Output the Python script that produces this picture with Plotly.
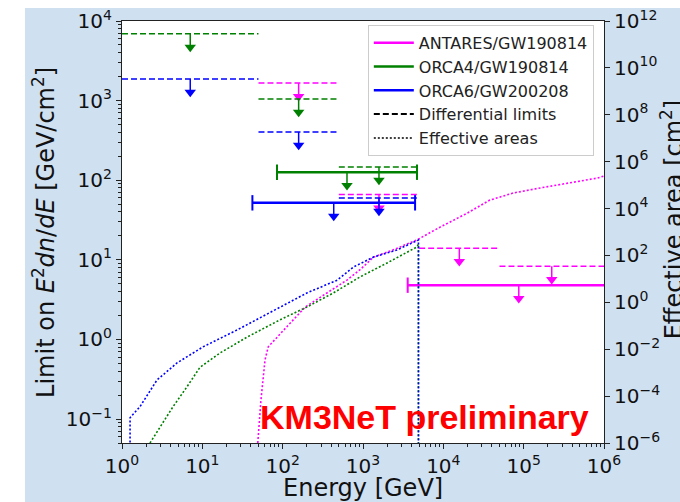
import numpy as np
import plotly.graph_objects as go

# ---------------- data ----------------
series = ["ANTARES/GW190814", "ORCA4/GW190814", "ORCA6/GW200208"]
colors = ["magenta", "green", "blue"]

# differential limits: energy bins [GeV] and limit values [GeV/cm^2]
diff_lo = {
    "ANTARES/GW190814": [50, 500, 5e3, 5e4],
    "ORCA4/GW190814": [1, 50, 500],
    "ORCA6/GW200208": [1, 50, 500],
}
diff_hi = {
    "ANTARES/GW190814": [500, 5e3, 5e4, 1e6],
    "ORCA4/GW190814": [50, 500, 5e3],
    "ORCA6/GW200208": [50, 500, 5e3],
}
diff_val = {
    "ANTARES/GW190814": [1660, 66, 14, 8.3],
    "ORCA4/GW190814": [6900, 1050, 147],
    "ORCA6/GW200208": [1870, 404, 60],
}

# energy-integrated limits: energy range and value
int_lo = {"ANTARES/GW190814": 3600, "ORCA4/GW190814": 85, "ORCA6/GW200208": 42}
int_hi = {"ANTARES/GW190814": 2.1e6, "ORCA4/GW190814": 4700, "ORCA6/GW200208": 4450}
int_val = {"ANTARES/GW190814": 4.8, "ORCA4/GW190814": 126, "ORCA6/GW200208": 52}

# effective areas [cm^2] vs energy [GeV]
ea_E = {
    "ANTARES/GW190814": [49, 53.7, 60.3, 66.1, 112, 191, 355, 631, 912, 1350, 2340,
                         4680, 9120, 2.0e4, 3.8e4, 7.41e4, 1.62e5, 3.47e5, 8.3e5, 1e6],
    "ORCA4/GW190814": [2.23, 2.97, 4.31, 6.44, 9.35, 16.6, 36.1, 92.9, 200, 427, 912,
                       2000, 4680, 4900, 4900],
    "ORCA6/GW200208": [1.26, 1.26, 1.67, 2.73, 4.84, 10.2, 27.0, 92.9, 200, 479, 759,
                       1350, 2630, 4900, 4900],
}
ea_A = {
    "ANTARES/GW190814": [1e-6, 6.9e-5, 3.5e-3, 0.0126, 0.089, 0.63, 2.5, 8.9, 24, 85, 170,
                         457, 1620, 6460, 2.3e4, 4.6e4, 7.6e4, 1.23e5, 2.0e5, 2.45e5],
    "ORCA4/GW190814": [1e-6, 4.8e-6, 3.5e-5, 2.5e-4, 1.7e-3, 6.9e-3, 0.033, 0.18, 0.63,
                       2.5, 12, 48, 229, 300, 1e-7],
    "ORCA6/GW200208": [1e-7, 1.2e-5, 3.5e-5, 4.9e-4, 2.6e-3, 0.0126, 0.066, 0.63, 2.5,
                       8.9, 32, 85, 170, 457, 1e-7],
}

x_tick_exp = [0, 1, 2, 3, 4, 5, 6]
y_tick_exp = [-1, 0, 1, 2, 3, 4]
y2_tick_exp = [-6, -4, -2, 0, 2, 4, 6, 8, 10, 12]

ARROW = 0.68  # arrow length factor (log)

# ---------------- figure ----------------
fig = go.Figure()
FONT = "DejaVu Sans"


def sup(e):
    s = str(e).replace("-", "\u2212")
    return "10<sup>" + s + "</sup>"


# effective areas (right axis)
for name, col in zip(series, colors):
    fig.add_trace(go.Scatter(
        x=ea_E[name], y=ea_A[name], yaxis="y2", mode="lines",
        line=dict(color=col, width=1.6, dash="2px,2px"),
        showlegend=False, hoverinfo="skip"))

# limits (left axis)
for name, col in zip(series, colors):
    xs, ys, ax_x, ax_y = [], [], [], []
    for lo, hi, v in zip(diff_lo[name], diff_hi[name], diff_val[name]):
        xs += [lo, hi, None]
        ys += [v, v, None]
        c = float(np.sqrt(lo * hi))
        ax_x.append(c)
        ax_y.append(v)
    fig.add_trace(go.Scatter(x=xs, y=ys, mode="lines",
                             line=dict(color=col, width=1.5, dash="6px,3px"),
                             showlegend=False, hoverinfo="skip"))
    lo, hi, v = int_lo[name], int_hi[name], int_val[name]
    fig.add_trace(go.Scatter(x=[lo, hi], y=[v, v], mode="lines+markers",
                             line=dict(color=col, width=2.5),
                             marker=dict(symbol="line-ns", size=11,
                                         line=dict(color=col, width=2)),
                             showlegend=False, hoverinfo="skip"))
    ax_x.append(float(np.sqrt(lo * hi)))
    ax_y.append(v)
    sx, sy = [], []
    for c, v in zip(ax_x, ax_y):
        sx += [c, c, None]
        sy += [v, v * ARROW, None]
    fig.add_trace(go.Scatter(x=sx, y=sy, mode="lines",
                             line=dict(color=col, width=1.5),
                             showlegend=False, hoverinfo="skip"))
    fig.add_trace(go.Scatter(x=ax_x, y=[v * ARROW for v in ax_y], mode="markers",
                             marker=dict(symbol="triangle-down", size=10, color=col,
                                         line=dict(width=0)),
                             showlegend=False, hoverinfo="skip"))

# legend entries
for name, col in zip(series, colors):
    fig.add_trace(go.Scatter(x=[None], y=[None], mode="lines", name=name,
                             line=dict(color=col, width=2.5)))
fig.add_trace(go.Scatter(x=[None], y=[None], mode="lines", name="Differential limits",
                         line=dict(color="black", width=2, dash="6px,3px")))
fig.add_trace(go.Scatter(x=[None], y=[None], mode="lines", name="Effective areas",
                         line=dict(color="black", width=1.5, dash="2px,2px")))


def minor_vals(e0, e1):
    out = []
    for e in range(e0, e1):
        for m in range(2, 10):
            out.append(m * 10.0 ** e)
    return out


axcol = "#222222"
tickfont = dict(family=FONT, size=20, color="#111111")

fig.update_layout(
    width=680, height=502,
    margin=dict(l=122, r=76, t=21, b=59, autoexpand=False),
    paper_bgcolor="#cfe0f1",
    plot_bgcolor="white",
    font=dict(family=FONT, color="#111111"),
    xaxis=dict(type="log", range=[0, 6], showgrid=False, zeroline=False,
               showline=True, linecolor=axcol, linewidth=1.2, mirror=True,
               ticks="outside", ticklen=5, tickcolor=axcol,
               tickvals=[10.0 ** e for e in x_tick_exp],
               ticktext=[sup(e) for e in x_tick_exp], tickfont=tickfont,
               minor=dict(tickvals=minor_vals(0, 6), ticks="outside", ticklen=3,
                          tickcolor=axcol, showgrid=False)),
    yaxis=dict(type="log", range=[np.log10(0.05), 4], showgrid=False, zeroline=False,
               showline=True, linecolor=axcol, linewidth=1.2,
               ticks="outside", ticklen=5, tickcolor=axcol,
               tickvals=[10.0 ** e for e in y_tick_exp],
               ticktext=[sup(e) for e in y_tick_exp], tickfont=tickfont,
               minor=dict(tickvals=minor_vals(-2, 4), ticks="outside", ticklen=3,
                          tickcolor=axcol, showgrid=False)),
    yaxis2=dict(type="log", range=[-6, 12], overlaying="y", side="right",
                showgrid=False, zeroline=False, showline=True, linecolor=axcol,
                linewidth=1.2, ticks="outside", ticklen=5, tickcolor=axcol,
                tickvals=[10.0 ** e for e in y2_tick_exp],
                ticktext=[sup(e) for e in y2_tick_exp], tickfont=tickfont),
    legend=dict(x=0.51, y=0.991, xanchor="left", yanchor="top", itemwidth=40,
                bgcolor="rgba(255,255,255,0.85)", bordercolor="#cccccc",
                borderwidth=1, font=dict(family=FONT, size=16, color="#222222")),
    showlegend=True,
)

# page framing (white strips of the cropped screenshot)
fig.add_shape(type="rect", xref="paper", yref="paper", x0=-0.26, x1=-0.2012,
              y0=-0.15, y1=1.06, fillcolor="white", line=dict(width=0), layer="below")
fig.add_shape(type="rect", xref="paper", yref="paper", x0=-0.26, x1=1.17,
              y0=1.0308, y1=1.06, fillcolor="white", line=dict(width=0), layer="below")

# axis titles
fig.add_annotation(xref="paper", yref="paper", x=0.5, y=-0.106, yanchor="middle",
                   text="Energy [GeV]", showarrow=False,
                   font=dict(family=FONT, size=24, color="#111111"))
fig.add_annotation(xref="paper", yref="paper", x=-0.162, y=0.5, xanchor="center",
                   textangle=-90,
                   text="Limit on <i>E</i><sup>2</sup><i>dn</i>/<i>dE</i> [GeV/cm<sup>2</sup>]",
                   showarrow=False, font=dict(family=FONT, size=24, color="#111111"))
fig.add_annotation(xref="paper", yref="paper", x=1.141, y=0.53, xanchor="center",
                   textangle=-90, text="Effective area [cm<sup>2</sup>]",
                   showarrow=False, font=dict(family=FONT, size=24, color="#111111"))

# watermark
fig.add_annotation(xref="paper", yref="paper", x=0.627, y=0.062, yanchor="middle",
                   text="<b>KM3NeT preliminary</b>", showarrow=False,
                   font=dict(family="Liberation Sans", size=34, color="#ff0000"))

fig.write_html("out.html")
